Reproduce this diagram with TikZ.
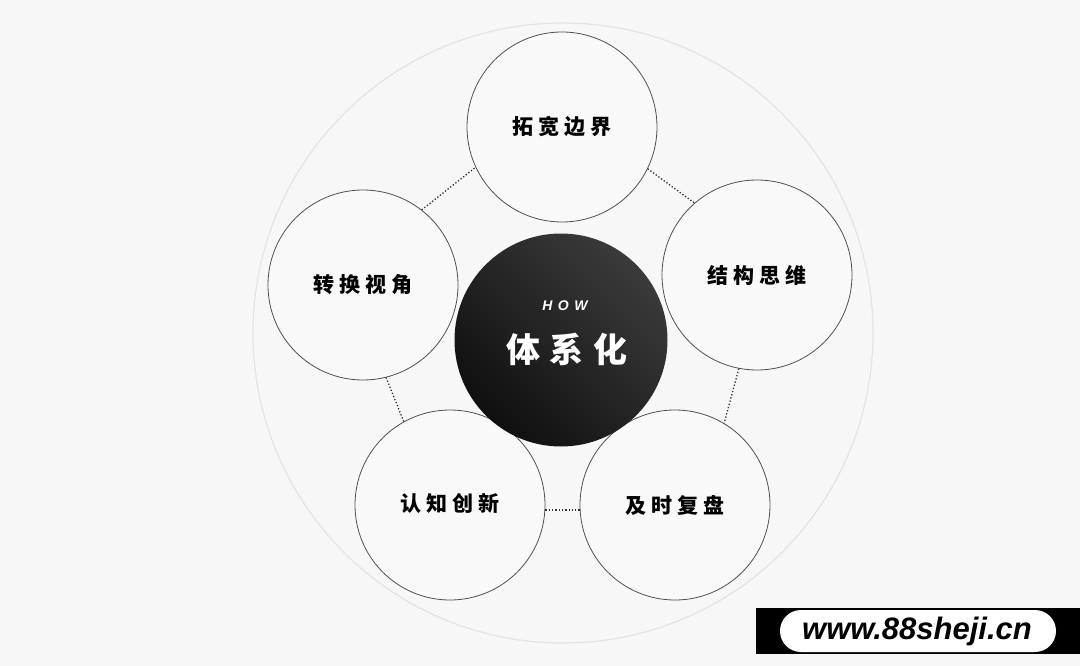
\documentclass[tikz,border=0pt]{standalone}
\usepackage{fontspec}
\setmainfont{Noto Sans CJK SC}
\newfontfamily\cjkls{Noto Sans CJK SC}[LetterSpace=24]
\newfontfamily\cjkbig{Noto Sans CJK SC}[LetterSpace=28]
\newfontfamily\latinf{Liberation Sans}[LetterSpace=40]
\newfontfamily\wmfont{Liberation Sans}
\definecolor{bg}{HTML}{F7F7F7}
\definecolor{ring}{HTML}{E4E4E4}
\definecolor{edge}{HTML}{505050}
\definecolor{cfill}{HTML}{F9F9F9}
\begin{document}
\begin{tikzpicture}[x=1pt,y=-1pt,
  sat/.style={circle,draw=edge,line width=0.8pt,fill=cfill,minimum size=190pt,inner sep=0pt,
    font=\fontsize{21}{24}\selectfont\bfseries\cjkls},
  link/.style={dotted,line width=1.3pt,draw=black!80},
  hub/.style={circle,minimum size=213pt,inner sep=0pt,shading=axis,
    top color=black!77,bottom color=black!94,shading angle=-45}
]
\useasboundingbox (0,0) rectangle (1080,666);
\fill[bg] (0,0) rectangle (1080,666);
% outer ring
\node[circle,draw=ring,line width=1.2pt,minimum size=620pt,inner sep=0pt] (ring) at (563,333) {};
% satellites
\node[sat] (top) at (562,127) {拓宽边界};
\node[sat] (right) at (757,275) {结构思维};
\node[sat] (br) at (675,505) {\raisebox{-3pt}{及时复盘}};
\node[sat] (bl) at (450,505) {\raisebox{5pt}{认知创新}};
\node[sat] (left) at (363,285) {转换视角};
% hub
\node[hub] (hub) at (561,340) {};
\node[text=white,font=\fontsize{14}{16}\selectfont\bfseries\itshape\latinf] (how) at (565,306) {HOW};
\node[text=white,font=\fontsize{34}{38}\selectfont\bfseries\cjkbig] (sys) at (567,349) {体系化};
% dotted links
\draw[link] (top.-26) -- (right.131);
\draw[link] (right.259) -- (br.59);
\draw[link] (br.183) -- (bl.-3);
\draw[link] (bl.119) -- (left.-76);
\draw[link] (left.52) -- (top.205);
% watermark
\fill[black] (756,608) rectangle (1080,654);
\node[fill=white,rounded corners=21pt,minimum width=276pt,minimum height=42pt,inner sep=0pt] (wm) at (918,631) {};
\node[font=\fontsize{31}{34}\selectfont\bfseries\itshape\wmfont] (wmt) at (917,631) {www.88sheji.cn};
\end{tikzpicture}
\end{document}
